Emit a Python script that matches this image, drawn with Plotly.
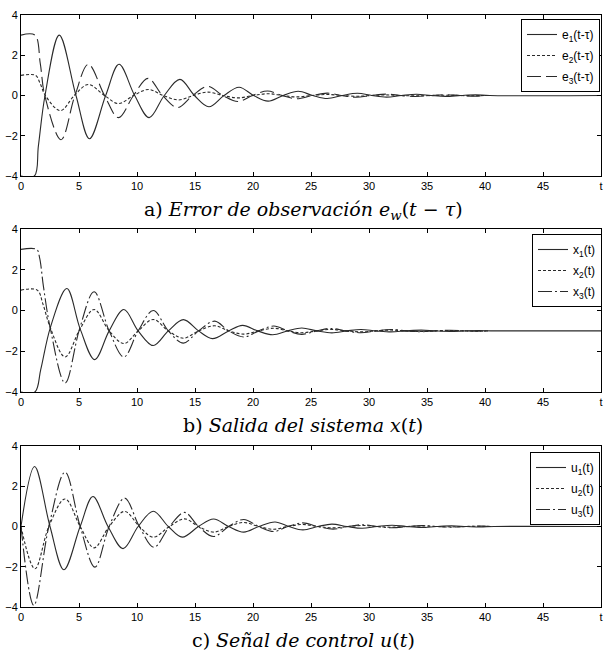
import plotly.graph_objects as go

# ---------------- data ----------------
# Panel a: observation error e_w(t - tau)
E1_T = [0, 1.15, 1.5, 2.07, 3.3, 4.74, 5.9, 7.3, 8.45, 9.8, 11.05, 12.35, 13.7, 14.95, 16.2, 17.5, 18.8, 20.05,
        21.3, 22.6, 23.9, 25.15, 26.4, 27.7, 29.0, 30.25, 31.5, 32.8, 34.1, 35.35, 36.6, 37.9, 39.2, 40.4, 50]
E1_V = [-4, -4, -2.5, 0, 3.0, 0, -2.15, 0, 1.55, 0, -1.1, 0, 0.8, 0, -0.56, 0, 0.41, 0,
        -0.28, 0, 0.21, 0, -0.15, 0, 0.11, 0, -0.08, 0, 0.06, 0, -0.045, 0, 0.035, 0, 0]
E2_T = [0, 1.25, 1.65, 2.1, 3.4, 4.6, 5.8, 7.2, 8.4, 9.7, 11.0, 12.25, 13.6, 14.85, 16.1, 17.4, 18.7, 20.0,
        21.3, 22.55, 23.8, 25.1, 26.4, 27.65, 28.9, 30.2, 31.5, 32.75, 34.0, 35.3, 36.6, 37.85, 39.1, 40.0]
E2_V = [1, 1, 0.6, 0, -0.75, 0, 0.55, 0, -0.4, 0, 0.3, 0, -0.22, 0, 0.17, 0, -0.12, 0,
        0.09, 0, -0.07, 0, 0.05, 0, -0.04, 0, 0.03, 0, -0.02, 0, 0.015, 0, -0.01, 0]
E3_T = [0, 1.2, 1.66, 2.05, 3.45, 4.65, 5.8, 7.2, 8.4, 9.7, 10.95, 12.2, 13.5, 14.8, 16.1, 17.4, 18.7, 19.95,
        21.25, 22.5, 23.8, 25.1, 26.4, 27.65, 28.9, 30.2, 31.5, 32.75, 34.0, 35.3, 36.6, 37.85, 39.1, 40.0]
E3_V = [3, 3, 1.6, 0, -2.2, 0, 1.55, 0, -1.1, 0, 0.85, 0, -0.6, 0, 0.45, 0, -0.3, 0,
        0.22, 0, -0.16, 0, 0.12, 0, -0.09, 0, 0.07, 0, -0.05, 0, 0.04, 0, -0.03, 0]

# Panel b: system output x(t)
X1_T = [0, 1.2, 1.7, 2.55, 3.95, 5.1, 6.35, 7.6, 8.87, 10.1, 11.4, 12.7, 14.0, 15.3, 16.5, 17.9, 19.1, 20.4,
        21.7, 23.0, 24.2, 25.5, 26.8, 28.1, 29.3, 30.6, 31.9, 33.2, 34.5, 35.7, 37.0, 38.3, 39.5, 40.5, 50]
X1_V = [-4, -4, -2.9, -0.8, 1.08, -0.9, -2.41, -1, 0.05, -1, -1.72, -1, -0.45, -1, -1.38, -1, -0.73, -1,
        -1.19, -1, -0.86, -1, -1.1, -1, -0.93, -1, -1.05, -1, -0.965, -1, -1.025, -1, -0.985, -1, -1]
X2_T = [0, 1.4, 1.9, 2.5, 3.8, 5.05, 6.3, 7.6, 8.87, 10.1, 11.4, 12.7, 14.0, 15.3, 16.7, 17.9, 19.2, 20.5,
        21.8, 23.0, 24.2, 25.5, 26.7, 28.0, 29.3, 30.6, 31.9, 33.2, 34.5, 35.7, 37.0, 38.3, 39.5, 40.3]
X2_V = [1, 1, 0.3, -0.8, -2.28, -0.95, 0.05, -1, -1.62, -1, -0.44, -1, -1.36, -1, -0.75, -1, -1.16, -1,
        -0.87, -1, -1.09, -1, -0.93, -1, -1.05, -1, -0.96, -1, -1.03, -1, -0.98, -1, -1.015, -1]
X3_T = [0, 1.35, 1.6, 1.93, 2.5, 3.8, 5.05, 6.3, 7.6, 8.87, 10.1, 11.4, 12.7, 14.0, 15.3, 16.7, 17.9, 19.2, 20.5,
        21.8, 23.0, 24.2, 25.5, 26.7, 28.0, 29.3, 30.6, 31.9, 33.2, 34.5, 35.7, 37.0, 38.3, 39.5, 40.3]
X3_V = [3, 3, 2.6, 1.2, -0.8, -3.56, -0.9, 0.92, -1, -2.28, -1, 0.0, -1, -1.6, -1, -0.52, -1, -1.3, -1,
        -0.76, -1, -1.17, -1, -0.88, -1, -1.09, -1, -0.935, -1, -1.045, -1, -0.97, -1, -1.02, -1]

# Panel c: control signal u(t)
U1_T = [0, 1.17, 2.5, 3.7, 5.1, 6.2, 7.5, 8.8, 10.1, 11.4, 12.7, 13.9, 15.3, 16.6, 17.9, 19.2, 20.5,
        21.9, 23.1, 24.3, 25.6, 26.8, 28.1, 29.4, 30.7, 32.0, 33.2, 34.5, 35.8, 37.1, 38.4, 39.6, 40.8, 50]
U1_V = [0, 2.98, 0, -2.15, 0, 1.49, 0, -1.1, 0, 0.76, 0, -0.53, 0, 0.37, 0, -0.28, 0,
        0.22, 0, -0.17, 0, 0.12, 0, -0.09, 0, 0.065, 0, -0.05, 0, 0.035, 0, -0.025, 0, 0]
U2_T = [0, 1.2, 2.4, 3.8, 5.1, 6.3, 7.6, 8.94, 10.2, 11.4, 12.8, 14.1, 15.3, 16.6, 17.9, 19.2, 20.5,
        21.8, 23.0, 24.3, 25.6, 26.9, 28.2, 29.5, 30.7, 32.0, 33.3, 34.6, 35.9, 37.1, 38.4, 39.7, 40.5]
U2_V = [0, -2.1, 0, 1.37, 0, -1.06, 0, 0.75, 0, -0.53, 0, 0.38, 0, -0.28, 0, 0.2, 0,
        -0.14, 0, 0.1, 0, -0.07, 0, 0.05, 0, -0.035, 0, 0.025, 0, -0.018, 0, 0.012, 0]
U3_T = [0, 1.1, 2.4, 3.8, 5.1, 6.37, 7.6, 8.94, 10.2, 11.46, 12.8, 14.1, 15.3, 16.6, 17.9, 19.2, 20.5,
        21.8, 23.0, 24.3, 25.6, 26.9, 28.2, 29.5, 30.7, 32.0, 33.3, 34.6, 35.9, 37.1, 38.4, 39.7, 40.5]
U3_V = [0, -3.92, 0, 2.7, 0, -2.02, 0, 1.41, 0, -1.03, 0, 0.7, 0, -0.5, 0, 0.35, 0,
        -0.25, 0, 0.18, 0, -0.13, 0, 0.09, 0, -0.065, 0, 0.045, 0, -0.03, 0, 0.02, 0]

X_TICKS = [0, 5, 10, 15, 20, 25, 30, 35, 40, 45, 50]
X_TICK_TEXT = ["0", "5", "10", "15", "20", "25", "30", "35", "40", "45", "t"]
Y_TICKS = [-4, -2, 0, 2, 4]

TITLES = ["a) <i>Error de observación e<sub>w</sub></i>(<i>t</i> − <i>τ</i>)",
          "b) <i>Salida del sistema x</i>(<i>t</i>)",
          "c) <i>Señal de control u</i>(<i>t</i>)"]

# ---------------- figure ----------------
W, H = 606, 655
ML, MR, MT, MB = 21, 5, 15, 48
PH = H - MT - MB  # 592


def py2paper(py):
    return (H - MB - py) / PH


def px2paper(px):
    return (px - ML) / (W - ML - MR)


DOMAINS = [(py2paper(176), py2paper(15)), (py2paper(392), py2paper(229)), (py2paper(607), py2paper(446))]

LINE_COLOR = "#2a2a2a"
DASH_SOLID = "solid"
DASH_SHORT = "3px,2px"
DASH_LONG = "14px,5px"
DASH_DOT = "14px,3px,2px,3px"

panels = [
    [(E1_T, E1_V, "e<sub>1</sub>(t-τ)", DASH_SOLID),
     (E2_T, E2_V, "e<sub>2</sub>(t-τ)", DASH_SHORT),
     (E3_T, E3_V, "e<sub>3</sub>(t-τ)", DASH_LONG)],
    [(X1_T, X1_V, "x<sub>1</sub>(t)", DASH_SOLID),
     (X2_T, X2_V, "x<sub>2</sub>(t)", DASH_SHORT),
     (X3_T, X3_V, "x<sub>3</sub>(t)", DASH_DOT)],
    [(U1_T, U1_V, "u<sub>1</sub>(t)", DASH_SOLID),
     (U2_T, U2_V, "u<sub>2</sub>(t)", DASH_SHORT),
     (U3_T, U3_V, "u<sub>3</sub>(t)", DASH_DOT)],
]

fig = go.Figure()
legend_names = ["legend", "legend2", "legend3"]
for i, series in enumerate(panels):
    sfx = "" if i == 0 else str(i + 1)
    for j, (t, v, name, dash) in enumerate(series):
        fig.add_trace(go.Scatter(
            x=t, y=v, mode="lines", name=name,
            line=dict(color=LINE_COLOR, width=1.1, dash=dash, shape="spline", smoothing=1.0),
            xaxis="x" + sfx, yaxis="y" + sfx,
            legend=legend_names[i], legendgroup=f"g{i}{j}",
        ))

axis_common = dict(
    showline=True, linecolor="black", linewidth=1, mirror="ticks",
    ticks="inside", ticklen=4, tickcolor="black", tickwidth=1,
    showgrid=False, zeroline=False, automargin=False,
    tickfont=dict(family="Liberation Sans, Arial, sans-serif", size=11, color="black"),
)

layout = dict(
    width=W, height=H,
    margin=dict(l=ML, r=MR, t=MT, b=MB, autoexpand=False),
    paper_bgcolor="white", plot_bgcolor="white",
    showlegend=True,
)
legend_pos = [(px2paper(600), py2paper(19)), (px2paper(602), py2paper(234)), (px2paper(600), py2paper(452))]
for i in range(3):
    sfx = "" if i == 0 else str(i + 1)
    layout["xaxis" + sfx] = dict(axis_common, range=[0, 50], tickvals=X_TICKS, ticktext=X_TICK_TEXT,
                                 anchor="y" + sfx, domain=[0, 1])
    layout["yaxis" + sfx] = dict(axis_common, range=[-4, 4], tickvals=Y_TICKS,
                                 anchor="x" + sfx, domain=list(DOMAINS[i]))
    lx, ly = legend_pos[i]
    layout[legend_names[i]] = dict(
        x=lx, y=ly, xanchor="right", yanchor="top",
        bgcolor="white", bordercolor="black", borderwidth=1,
        font=dict(family="Liberation Sans, Arial, sans-serif", size=12, color="black"),
        itemwidth=30, tracegroupgap=2,
    )
fig.update_layout(**layout)

title_y = [210, 425, 640]
for i, txt in enumerate(TITLES):
    fig.add_annotation(
        text=txt, xref="paper", yref="paper", x=px2paper(303), y=py2paper(title_y[i]),
        xanchor="center", yanchor="middle", showarrow=False,
        font=dict(family="DejaVu Serif, Liberation Serif, serif", size=19, color="black"),
    )

fig.write_html("out.html", config={"displayModeBar": False})

# remove the default page margin so the figure sits at the window's top-left corner
with open("out.html", "r", encoding="utf-8") as f:
    html = f.read()
html = html.replace("<head>", "<head><style>html,body{margin:0;padding:0;overflow:hidden;}</style>", 1)
with open("out.html", "w", encoding="utf-8") as f:
    f.write(html)
